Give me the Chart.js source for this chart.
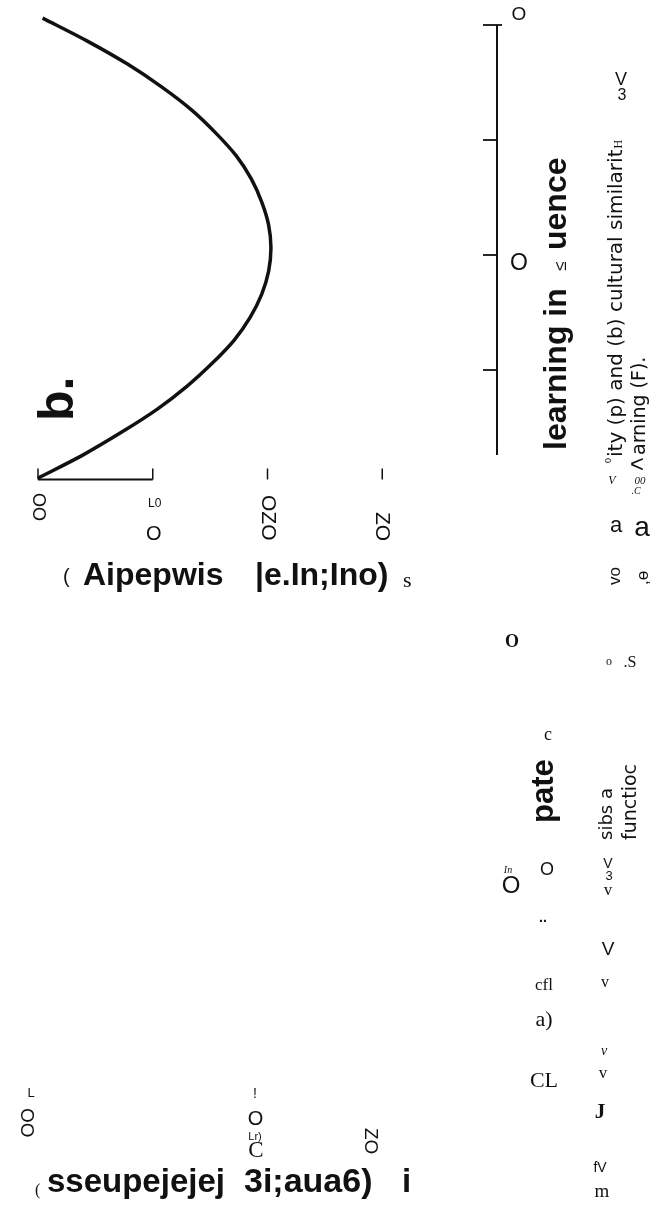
<!DOCTYPE html>
<html>
<head>
<meta charset="utf-8">
<script src="https://cdn.jsdelivr.net/npm/chart.js@4/dist/chart.umd.min.js"></script>
<style>
html, body { margin: 0; padding: 0; background: #fff; }
#wrap { position: relative; width: 657px; height: 1215px; overflow: hidden; }
canvas { position: absolute; left: 0; top: 0; }
</style>
</head>
<body>
<div id="wrap"><canvas id="myChart" width="657" height="1215"></canvas></div>
<script>
// panel b: cultural similarity (s, across) against learning influence (F, up the page)
const learningF = [0.015, 0.065, 0.115, 0.165, 0.215, 0.265, 0.315, 0.365, 0.415, 0.465, 0.515,
                   0.565, 0.615, 0.665, 0.715, 0.765, 0.815, 0.865, 0.915, 0.965, 1.015];
const similarityS = [0, 0.039, 0.073, 0.104, 0.130, 0.152, 0.171, 0.185, 0.195, 0.201, 0.203,
                     0.201, 0.195, 0.186, 0.173, 0.155, 0.134, 0.108, 0.078, 0.043, 0.004];

const simTicks = [0, 0.1, 0.2, 0.3];
const simTickLabels = ["OO", "O", "OZO", "ZO"];
const learnTicks = [0.25, 0.5, 0.75, 1];
const learnTickLabels = ["", "O", "", "O"];

// panel a (its curve is missing from the scan, only the labels are left)
const relTicks = [0, 0.2, 0.3];
const relTickLabels = ["OO", "O", "ZO"];

const SANS = '"Liberation Sans", Arial, sans-serif';
const SERIF = '"Liberation Serif", "Times New Roman", serif';
const CAP = '"DejaVu Sans", sans-serif';
const ink = "#111";

// loose text of the scanned page: [text, x, y, font, rotation, align]
const notes = [
  ["b.", 73, 421, "bold 50px " + SANS, -90],
  ["(", 63, 583, "20px " + SANS, 0],
  ["Aipepwis", 83, 585, "bold 32px " + SANS, 0],
  ["|e.In;Ino)", 255, 585, "bold 32px " + SANS, 0],
  ["s", 403, 587, "22px " + SERIF, 0],
  ["learning in", 566, 450, "bold 32px " + SANS, -90],
  ["≤", 566, 271, "17px " + SANS, -90],
  ["uence", 566, 250, "bold 32px " + SANS, -90],
  ["0", 611, 463, "9px " + SANS, -90],
  ["ity (p) and (b) cultural similarit", 622, 457, "20px " + CAP, -90],
  ["<", 630, 472, "24px " + SANS, 0],
  ["arning (F).", 645, 455, "19px " + CAP, -90],
  ["V", 621, 85, "18px " + SANS, 0, "center"],
  ["3", 622, 100, "16px " + SANS, 0, "center"],
  ["V", 612, 484, "italic 12px " + SERIF, 0, "center"],
  ["00", 640, 484, "italic 11px " + SERIF, 0, "center"],
  [".C", 636, 494, "italic 10px " + SERIF, 0, "center"],
  ["a", 616, 532, "22px " + SANS, 0, "center"],
  ["a", 642, 536, "28px " + SANS, 0, "center"],
  ["vo", 620, 585, "17px " + SANS, -90],
  [",ɵ", 648, 585, "17px " + SANS, -90],
  ["O", 512, 647, "bold 18px " + SERIF, 0, "center"],
  ["o", 609, 665, "12px " + SERIF, 0, "center"],
  [".S", 630, 667, "16px " + SERIF, 0, "center"],
  ["c", 548, 740, "18px " + SERIF, 0, "center"],
  ["pate", 553, 823, "bold 31px " + SANS, -90],
  ["sibs a", 612, 840, "18px " + CAP, -90],
  ["functioc", 636, 840, "19px " + CAP, -90],
  ["In", 508, 873, "italic 10px " + SERIF, 0, "center"],
  ["O", 511, 893, "24px " + SANS, 0, "center"],
  ["O", 547, 875, "18px " + SANS, 0, "center"],
  ["V", 608, 868, "14px " + SANS, 0, "center"],
  ["3", 609, 880, "13px " + SANS, 0, "center"],
  ["v", 608, 895, "17px " + SERIF, 0, "center"],
  ["..", 543, 922, "bold 14px " + SANS, 0, "center"],
  ["V", 608, 955, "19px " + SANS, 0, "center"],
  ["cfl", 544, 990, "17px " + SERIF, 0, "center"],
  ["v", 605, 987, "16px " + SERIF, 0, "center"],
  ["a)", 544, 1026, "22px " + SERIF, 0, "center"],
  ["v", 604, 1055, "italic 14px " + SERIF, 0, "center"],
  ["CL", 544, 1087, "22px " + SERIF, 0, "center"],
  ["v", 603, 1078, "17px " + SERIF, 0, "center"],
  ["J", 600, 1118, "bold 21px " + SERIF, 0, "center"],
  ["fV", 600, 1172, "14px " + SANS, 0, "center"],
  ["m", 602, 1197, "19px " + SERIF, 0, "center"],
  ["L", 31, 1097, "13px " + SANS, 0, "center"],
  ["!", 255, 1098, "14px " + SANS, 0, "center"],
  ["Lr)", 255, 1140, "11px " + SANS, 0, "center"],
  ["C", 256, 1157, "23px " + SERIF, 0, "center"],
  ["(", 35, 1195, "16px " + SERIF, 0],
  ["sseupejejej", 47, 1192, "bold 33px " + SANS, 0],
  ["3i;aua6)", 244, 1192, "bold 34px " + SANS, 0],
  ["i", 402, 1192, "bold 33px " + SANS, 0]
];

function txt(ctx, s, x, y, font, rot, align, base) {
  ctx.save();
  ctx.translate(x, y);
  if (rot) ctx.rotate(rot * Math.PI / 180);
  ctx.font = font;
  ctx.textAlign = align || "left";
  ctx.textBaseline = base || "alphabetic";
  ctx.fillStyle = ink;
  ctx.fillText(s, 0, 0);
  ctx.restore();
}

function line(ctx, x1, y1, x2, y2, w) {
  ctx.beginPath();
  ctx.moveTo(x1, y1);
  ctx.lineTo(x2, y2);
  ctx.lineWidth = w;
  ctx.strokeStyle = ink;
  ctx.stroke();
}

const scanPlugin = {
  id: "scan",
  afterDraw(chart) {
    const ctx = chart.ctx;
    const xs = chart.scales.x;
    const ys = chart.scales.y;

    // similarity axis, only its first stretch survives
    const axisY = ys.getPixelForValue(0.012);
    line(ctx, xs.getPixelForValue(0), axisY, xs.getPixelForValue(0.1), axisY, 2);
    const simRot = [90, 0, 90, 90];
    const simY = [493, 540, 495, 512];
    const simSize = [18, 20, 21, 21];
    simTicks.forEach((v, i) => {
      const x = xs.getPixelForValue(v);
      line(ctx, x, axisY - 11, x, axisY, 1.5);
      if (simRot[i]) {
        txt(ctx, simTickLabels[i], x, simY[i], simSize[i] + "px " + SANS, 90, "left", "middle");
      } else {
        txt(ctx, simTickLabels[i], x + 1, simY[i], simSize[i] + "px " + SANS, 0, "center");
      }
    });
    txt(ctx, "L0", xs.getPixelForValue(0.1) + 2, 507, "12px " + SANS, 0, "center");

    // learning influence axis on the right
    const ax = xs.getPixelForValue(0.4);
    line(ctx, ax, ys.getPixelForValue(1), ax, ys.getPixelForValue(0.065), 2);
    const learnDy = [0, 9, 0, -10];
    const learnSize = [19, 23, 19, 19];
    learnTicks.forEach((v, i) => {
      const y = ys.getPixelForValue(v);
      line(ctx, ax - 14, y, v === 1 ? ax + 5 : ax, y, 1.8);
      if (learnTickLabels[i]) {
        txt(ctx, learnTickLabels[i], ax + 22, y + learnDy[i], learnSize[i] + "px " + SANS, 0, "center", "middle");
      }
    });

    // panel a tick labels, same spacing, shifted left a little
    const relRot = [90, 0, 90];
    const relY = [1108, 1125, 1128];
    relTicks.forEach((v, i) => {
      const x = xs.getPixelForValue(v) - 12;
      if (relRot[i]) {
        txt(ctx, relTickLabels[i], x, relY[i], "19px " + SANS, 90, "left", "middle");
      } else {
        txt(ctx, relTickLabels[i], x, relY[i], "20px " + SANS, 0, "center");
      }
    });

    notes.forEach(n => txt(ctx, n[0], n[1], n[2], n[3], n[4], n[5]));
    // the "y" of similarity came out as a small H
    ctx.save();
    ctx.font = "20px " + CAP;
    const w = ctx.measureText("ity (p) and (b) cultural similarit").width;
    ctx.restore();
    txt(ctx, "H", 622, 457 - w - 1, "12px " + SERIF, -90);
  }
};

const points = learningF.map((f, i) => ({ x: similarityS[i], y: f }));

new Chart(document.getElementById("myChart"), {
  type: "scatter",
  data: {
    datasets: [{
      label: "cultural similarity",
      data: points,
      showLine: true,
      borderColor: ink,
      borderWidth: 3.5,
      pointRadius: 0,
      tension: 0.3,
      fill: false,
      clip: false
    }]
  },
  options: {
    responsive: false,
    animation: false,
    devicePixelRatio: 1,
    layout: { padding: { left: 38, right: 160, top: 2, bottom: 730 } },
    plugins: { legend: { display: false }, tooltip: { enabled: false } },
    scales: {
      x: { type: "linear", min: 0, max: 0.4, display: false },
      y: { type: "linear", min: 0, max: 1.05, display: false }
    }
  },
  plugins: [scanPlugin]
});
</script>
</body>
</html>
